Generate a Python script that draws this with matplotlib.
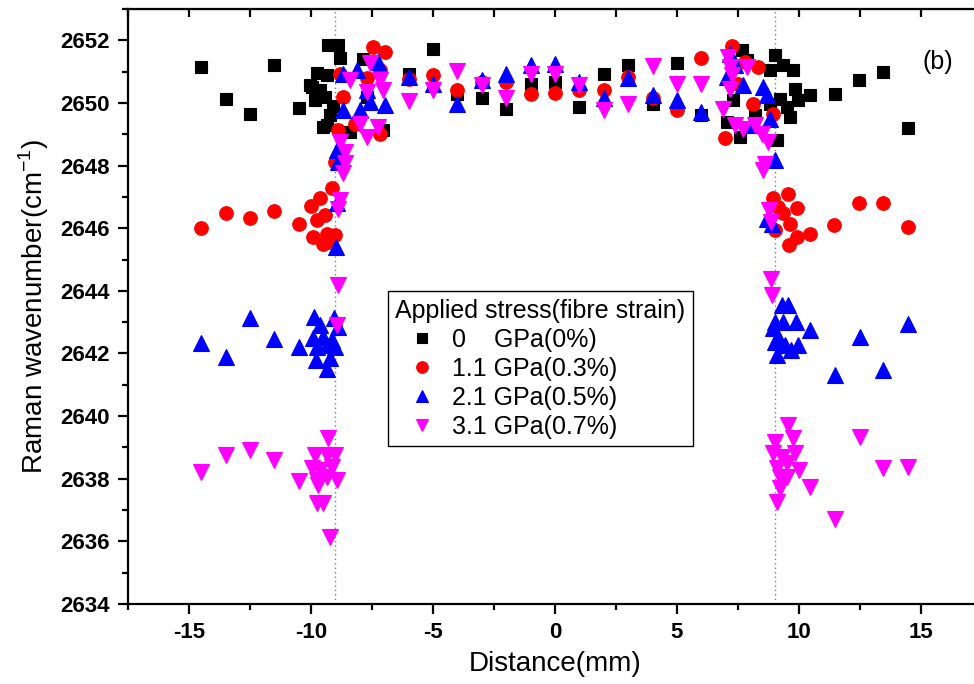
import matplotlib
matplotlib.use("Agg")
import matplotlib.pyplot as plt
from matplotlib.ticker import MultipleLocator, NullLocator

plt.rcParams['font.family'] = ['Liberation Sans', 'DejaVu Sans']
plt.rcParams['axes.unicode_minus'] = False

# Raman 2D-band position along the fibre for each applied stress level
x_0 = [-14.5, -13.5, -12.5, -11.5, -10.5,
       -9.29, -8.9, -8.8, -9.77, -9.36, -9.97, -9.63, -9.84, -9.43, -9.22, -9.5, -9.36,
       -8.4, -7.88, -7.72, -7.05, -9.1, -10.04,
       -6.0, -5.0, -4.0, -3.0, -2.0, -1.0, 0.0, 1.0, 2.0, 3.0, 4.0, 5.0, 6.0,
       7.04, 7.58, 7.65, 7.86, 8.81, 9.02, 9.36, 9.77, 9.84, 9.22, 9.97, 9.49, 9.63,
       9.08, 8.81, 7.3, 8.2,
       10.45, 11.48, 12.46, 13.46, 14.45]
y_0 = [2651.15, 2650.14, 2649.66, 2651.2, 2649.84,
       2651.84, 2651.84, 2651.45, 2650.95, 2650.9, 2650.5, 2650.4, 2650.08, 2650.19, 2649.6, 2649.23, 2649.3,
       2649.07, 2651.4, 2650.19, 2649.13, 2649.9, 2650.56,
       2650.94, 2651.73, 2650.3, 2650.16, 2649.8, 2650.6, 2650.67, 2649.87, 2650.94, 2651.2, 2649.98, 2651.26, 2649.6,
       2649.39, 2648.91, 2651.68, 2651.36, 2651.04, 2651.52, 2651.2, 2651.04, 2650.46, 2650.14, 2650.08, 2649.87, 2649.55,
       2648.81, 2649.98, 2650.1, 2649.6,
       2650.24, 2650.27, 2650.72, 2650.99, 2649.2]

x_11 = [-14.5, -13.5, -12.5, -11.5, -10.5,
        -10.0, -9.63, -9.15, -9.77, -9.43, -9.9, -9.36, -9.02, -9.5, -9.29,
        -9.02, -8.88, -8.67, -8.8, -8.2, -7.17, -7.45, -6.97, -7.17, -7.7,
        -6.0, -5.0, -4.0, -3.0, -2.0, -1.0, 0.0, 1.0, 2.0, 3.0, 4.0, 5.0, 6.0,
        7.24, 7.79, 8.33, 8.13, 8.95, 6.97, 7.5,
        8.95, 9.56, 9.9, 9.36, 9.63, 9.02, 9.9, 9.6, 9.15,
        10.45, 11.45, 12.46, 13.46, 14.45]
y_11 = [2646.01, 2646.5, 2646.33, 2646.55, 2646.15,
        2646.7, 2646.95, 2647.27, 2646.25, 2646.41, 2645.72, 2645.83, 2645.78, 2645.51, 2645.56,
        2648.12, 2649.13, 2650.19, 2650.94, 2649.34, 2649.02, 2651.79, 2651.63, 2651.04, 2650.8,
        2650.78, 2650.9, 2650.4, 2650.67, 2650.67, 2650.3, 2650.32, 2650.4, 2650.4, 2650.83, 2650.17, 2649.77, 2651.42,
        2651.81, 2651.31, 2651.15, 2649.98, 2649.66, 2648.89, 2650.6,
        2646.95, 2647.1, 2646.63, 2646.47, 2646.15, 2645.94, 2645.72, 2645.46, 2646.68,
        2645.8, 2646.1, 2646.79, 2646.79, 2646.04]

x_21 = [-14.5, -13.5, -12.5, -11.5, -10.5,
        -9.86, -9.63, -9.04, -8.88, -9.9, -9.5, -9.15, -9.77, -9.36, -9.02, -9.8, -9.22, -9.36,
        -8.97, -8.95, -8.95, -8.88, -8.67, -8.67, -8.13, -7.24, -7.72, -7.58, -6.97, -7.99,
        -6.0, -5.0, -4.0, -3.0, -2.0, -1.0, 0.0, 1.0, 2.0, 3.0, 4.0, 5.0, 6.0,
        7.17, 7.38, 7.04, 7.72, 8.54, 8.68, 8.81, 8.06, 9.02, 8.68, 8.91,
        9.29, 9.56, 9.02, 9.36, 9.88, 8.95, 9.15, 9.97, 9.02, 9.43, 9.67, 9.11,
        10.45, 11.48, 12.48, 13.46, 14.45]
y_21 = [2642.32, 2641.89, 2643.12, 2642.45, 2642.21,
        2643.17, 2642.9, 2643.12, 2642.85, 2642.48, 2642.53, 2642.42, 2642.21, 2642.26, 2642.21, 2641.79, 2641.84, 2641.52,
        2645.4, 2646.8, 2648.49, 2648.12, 2649.77, 2650.94, 2651.04, 2651.3, 2650.4, 2650.03, 2649.93, 2649.77,
        2650.83, 2650.62, 2649.98, 2650.72, 2650.94, 2651.2, 2651.23, 2650.67, 2650.17, 2650.81, 2650.24, 2650.08, 2649.71,
        2651.57, 2651.2, 2650.83, 2650.56, 2650.51, 2650.24, 2649.5, 2649.29, 2648.17, 2646.31, 2646.15,
        2643.54, 2643.54, 2643.01, 2643.01, 2643.01, 2642.8, 2642.53, 2642.26, 2642.37, 2642.26, 2642.1, 2641.95,
        2642.74, 2641.31, 2642.53, 2641.47, 2642.94]

x_31 = [-14.5, -13.5, -12.5, -11.5, -10.5,
        -9.29, -9.84, -9.36, -9.02, -9.97, -9.63, -9.15, -9.77, -9.36, -8.95, -9.77, -9.5, -9.22, -9.7,
        -8.91, -8.95, -8.8, -8.67, -8.6, -8.6, -8.8, -7.72, -7.24, -7.99, -7.03, -7.72, -7.17, -8.4, -7.58, -8.9,
        -6.0, -5.0, -4.0, -3.0, -2.0, -1.0, 0.0, 1.0, 2.0, 3.0, 4.0, 5.0, 6.0,
        7.1, 7.17, 7.86, 7.24, 7.17, 6.9, 7.38, 7.72, 8.2, 8.47, 8.74, 8.61, 8.54, 8.79, 8.84, 8.84, 8.91,
        9.56, 9.74, 9.02, 8.95, 9.84, 9.29, 9.49, 9.08, 10.01, 9.22, 9.49, 9.22, 10.45, 9.08,
        11.48, 12.48, 13.46, 14.45]
y_31 = [2638.22, 2638.75, 2638.91, 2638.61, 2637.93,
        2639.29, 2638.75, 2638.75, 2638.75, 2638.33, 2638.28, 2638.38, 2637.96, 2638.06, 2637.96, 2637.21, 2637.21, 2636.15, 2637.8,
        2644.18, 2642.9, 2646.89, 2647.75, 2648.07, 2648.43, 2648.75, 2648.91, 2649.23, 2649.34, 2650.4, 2650.35, 2650.72, 2650.72, 2651.26, 2646.6,
        2650.06, 2650.4, 2651.02, 2650.56, 2650.17, 2650.91, 2650.91, 2650.56, 2649.77, 2649.96, 2651.17, 2650.62, 2650.59,
        2651.47, 2651.15, 2651.15, 2650.88, 2650.46, 2649.82, 2649.29, 2649.18, 2649.29, 2649.02, 2648.75, 2648.06, 2647.85, 2646.57, 2646.2, 2644.39, 2643.86,
        2639.71, 2639.29, 2639.18, 2638.81, 2638.81, 2638.7, 2638.49, 2638.33, 2638.28, 2638.06, 2638.06, 2637.69, 2637.74, 2637.26,
        2636.73, 2639.34, 2638.33, 2638.38]

labels = ["0    GPa(0%)", "1.1 GPa(0.3%)", "2.1 GPa(0.5%)", "3.1 GPa(0.7%)"]
fibre_ends = [-9, 9]

fig = plt.figure(figsize=(9.74, 6.84), dpi=100)
ax = fig.add_axes([128 / 974, 1 - 604 / 684, 854 / 974, 595 / 684])

for xe in fibre_ends:
    ax.axvline(xe, color="#7a7a7a", linestyle=(0, (1, 2.2)), linewidth=1.0, zorder=1)

series = [
    (x_0, y_0, "s", "black", 9),
    (x_11, y_11, "o", "red", 9.8),
    (x_21, y_21, "^", "blue", 11),
    (x_31, y_31, "v", "magenta", 11),
]
handles = []
for (xs, ys, mk, col, ms), lab in zip(series, labels):
    h, = ax.plot(xs, ys, linestyle="none", marker=mk, color=col, markersize=ms,
                 markeredgewidth=0.8, markeredgecolor=col, label=lab, zorder=3)
    handles.append(h)

ax.set_xlim(-17.5, 17.5)
ax.set_ylim(2634, 2653)

for side in ["left", "bottom", "top", "right"]:
    ax.spines[side].set_linewidth(1.6)

ax.xaxis.set_major_locator(MultipleLocator(5))
ax.xaxis.set_minor_locator(MultipleLocator(2.5))
ax.yaxis.set_major_locator(MultipleLocator(2))
ax.yaxis.set_minor_locator(MultipleLocator(1))
ax.tick_params(which="major", direction="out", length=7, width=1.6,
               labelsize=16, pad=6)
ax.tick_params(which="minor", direction="out", length=4, width=1.6)
for lab in ax.get_xticklabels() + ax.get_yticklabels():
    lab.set_fontweight("bold")

top = ax.secondary_xaxis("top")
top.xaxis.set_major_locator(MultipleLocator(2.5))
top.xaxis.set_minor_locator(NullLocator())
top.tick_params(direction="in", length=6, width=1.6, labeltop=False)
right = ax.secondary_yaxis("right")
right.yaxis.set_major_locator(MultipleLocator(2))
right.yaxis.set_minor_locator(NullLocator())
right.tick_params(direction="in", length=6, width=1.6, labelright=False)

ax.set_xlabel("Distance(mm)", fontsize=20, labelpad=6)
ax.set_ylabel("Raman wavenumber(cm$^{\\mathregular{-1}}$)", fontsize=20, labelpad=7)

ax.text(15.7, 2651.3, "(b)", fontsize=18, ha="center", va="center")

leg = ax.legend(handles=handles, title="Applied stress(fibre strain)",
                loc="upper left", bbox_to_anchor=(0.3044, 0.526), borderaxespad=0,
                fontsize=18, title_fontsize=18, fancybox=False, framealpha=1,
                edgecolor="black", handlelength=2.1, handletextpad=0.15,
                labelspacing=0.2, borderpad=0.3, markerscale=0.85)
leg.get_frame().set_linewidth(1.0)
leg._legend_box.align = "left"

fig.savefig("out.png", dpi=100)
